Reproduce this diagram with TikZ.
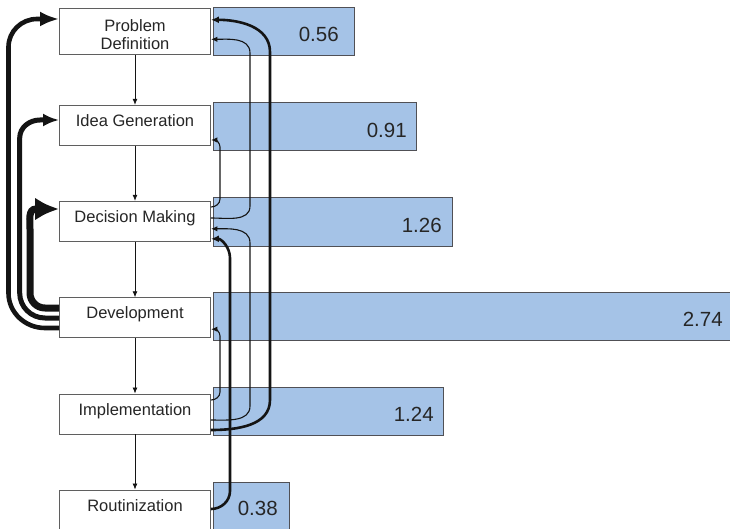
\documentclass[tikz,border=0pt]{standalone}
\usepackage{fontspec}
\setmainfont{Liberation Sans}
\usepackage{tikz}
\usetikzlibrary{arrows.meta,calc}
\definecolor{stedge}{RGB}{95,95,95}
\definecolor{barfill}{RGB}{165,195,231}
\definecolor{baredge}{RGB}{80,80,85}
\definecolor{lnk}{RGB}{20,20,20}
\tikzset{
  stagebase/.style={
    draw=stedge, line width=0.9pt, fill=white, align=center,
    minimum width=151pt, inner sep=0pt, text=black!85,
    font=\fontsize{16.5}{18}\selectfont
  },
  stage/.style={stagebase, minimum height=40pt, text height=12pt, text depth=10pt},
  bar/.style={
    draw=baredge, line width=0.9pt, fill=barfill,
    minimum height=48pt, inner sep=0pt, anchor=north west
  },
  val/.style={font=\fontsize{20.5}{24}\selectfont, inner sep=0pt, anchor=east, text=black!85},
  flow/.style={-{Latex[length=6pt,width=5pt]}, draw=lnk, line width=0.8pt},
  fb/.style={-{Latex[length=6.5pt,width=5.5pt]}, draw=lnk, line width=1.1pt},
  fbk/.style={-{Latex[length=8pt,width=7pt]}, draw=lnk, line width=2.6pt},
  loopo/.style={-{Latex[length=19pt,width=15pt]}, draw=lnk, line width=4.6pt},
  loopm/.style={-{Latex[length=16pt,width=13pt]}, draw=lnk, line width=5pt},
  loopi/.style={-{Latex[length=24pt,width=23pt]}, draw=lnk, line width=7pt}
}

\begin{document}
\begin{tikzpicture}[x=1pt, y=-1pt]
  \useasboundingbox (0,0) rectangle (730,529);
  % bars
  \node[bar, minimum width=141.5pt] (b1) at (212.5,7) {};
  \node[bar, minimum width=203pt] (b2) at (212.5,102.5) {};
  \node[bar, minimum width=239.5pt] (b3) at (212.5,197.5) {};
  \node[bar, minimum width=518pt] (b4) at (212.5,292) {};
  \node[bar, minimum width=230.5pt] (b5) at (212.5,387) {};
  \node[bar, minimum width=76.5pt] (b6) at (212.5,482) {};
  \node[val] (v1) at ($(b1.east)+(-16,3)$) {0.56};
  \node[val] (v2) at ($(b2.east)+(-9.5,3)$) {0.91};
  \node[val] (v3) at ($(b3.east)+(-11,3)$) {1.26};
  \node[val] (v4) at ($(b4.east)+(-8.5,3)$) {2.74};
  \node[val] (v5) at ($(b5.east)+(-10,3)$) {1.24};
  \node[val] (v6) at ($(b6.east)+(-12,2)$) {0.38};
  % stages
  \node[stagebase, minimum height=46.3pt] (pd) at (135,31.8) {\rule{0pt}{17pt}Problem\\Definition};
  \node[stage] (ig) at (135,125.3) {Idea Generation};
  \node[stage] (dm) at (135,221.3) {Decision Making};
  \node[stage] (dev) at (135,317.7) {Development};
  \node[stage] (imp) at (135,414) {Implementation};
  \node[stage] (rout) at (135,510) {Routinization};
  \draw[flow] (pd) -- (ig);
  \draw[flow] (ig) -- (dm);
  \draw[flow] (dm) -- (dev);
  \draw[flow] (dev) -- (imp);
  \draw[flow] (imp) -- (rout);
  % loops back from development
  \draw[loopo] ($(dev.west)+(0,10.3)$) -- (45,328) to[out=180,in=-90] (8.5,293) -- (8.5,47)
    to[out=90,in=180] (37,19) -- ($(pd.west)+(0,-12.8)$);
  \draw[loopm] ($(dev.west)+(0,0.3)$) -- (45,318) to[out=180,in=-90] (19.7,293) -- (19.7,138)
    to[out=90,in=180] (40,120) -- ($(ig.west)+(0,-5.3)$);
  \draw[loopi] ($(dev.west)+(0,-9.7)$) -- (45,308) to[out=180,in=-90] (30,293) -- (30,229)
    to[out=90,in=180] (36,209) -- ($(dm.west)+(0,-12.3)$);
  % feedback on the right
  \draw[fbk] ($(imp.east)+(0,16)$) to[out=0,in=-90] (270,400) -- (270,52)
    to[out=90,in=0] ($(pd.east)+(0,-12)$);
  \draw[fb] ($(dm.east)+(0,-3.3)$) to[out=0,in=-90] (250,206) -- (250,53)
    to[out=90,in=0] ($(pd.east)+(0,7.5)$);
  \draw[fb] ($(dm.east)+(0,-14.3)$) to[out=0,in=-90] (220,199) -- (220,147)
    to[out=90,in=0] ($(ig.east)+(0,14.7)$);
  \draw[fb] ($(imp.east)+(0,6)$) to[out=0,in=-90] (250,406) -- (250,243)
    to[out=90,in=0] ($(dm.east)+(0,7.5)$);
  \draw[fbk] ($(rout.east)+(0,-1)$) to[out=0,in=-90] (230,491) -- (230,258)
    to[out=90,in=0] ($(dm.east)+(0,17.5)$);
  \draw[fb] ($(imp.east)+(0,-14)$) to[out=0,in=-90] (220,392) -- (220,336)
    to[out=90,in=0] ($(dev.east)+(0,11.5)$);
\end{tikzpicture}
\end{document}
